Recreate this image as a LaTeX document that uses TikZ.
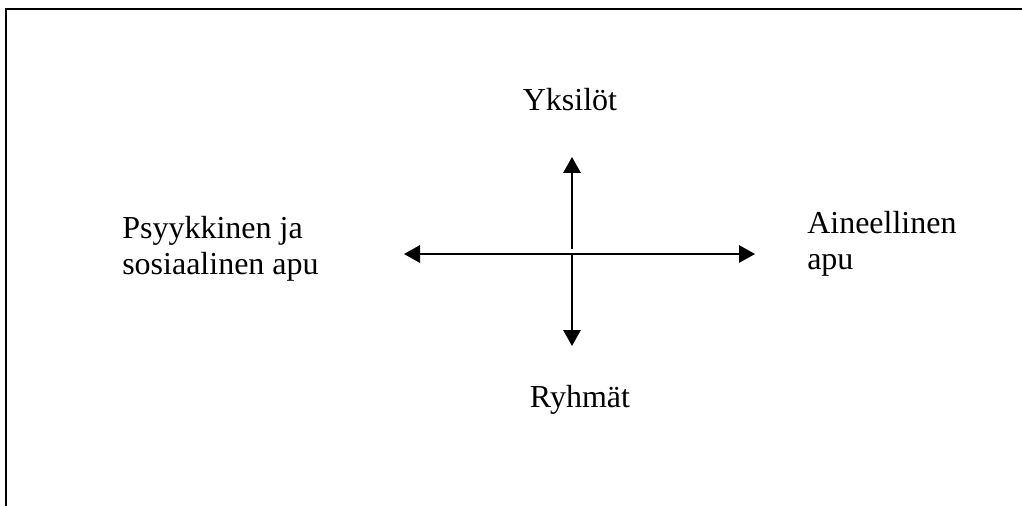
\documentclass[tikz,border=0pt]{standalone}
\usepackage{fontspec}
\setmainfont{Liberation Serif}
\usetikzlibrary{arrows.meta}
\begin{document}
\begin{tikzpicture}[x=0.75pt,y=-0.75pt,
  frame/.style={line width=1.5pt,black},
  axis/.style={line width=1.5pt,black,-{Triangle[length=12pt,width=13pt]}},
  label/.style={font=\fontsize{24}{27}\selectfont,inner sep=0pt,align=left}]
\useasboundingbox (0,0) rectangle (1022,506);
% open frame: top and left edges only
\draw[frame] (6,506) -- (6,9) -- (1022,9);
% axes
\coordinate (up) at (572,249);
\coordinate (dn) at (572,254);
\coordinate (top) at (572,157);
\coordinate (bot) at (572,346);
\coordinate (lt) at (404,254);
\coordinate (rt) at (755,254);
\coordinate (mid) at (572,254);
\draw[axis] (up) -- (top);
\draw[axis] (dn) -- (bot);
\draw[axis] (mid) -- (lt);
\draw[axis] (mid) -- (rt);
% labels (base anchor of a two-line node sits on its last line)
\node[label,anchor=base] (yks) at (570,111) {Yksilöt};
\node[label,anchor=base] (ryh) at (580,407) {Ryhmät};
\node[label,anchor=base west] (psy) at (122,275) {Psyykkinen ja\\sosiaalinen apu};
\node[label,anchor=base west] (ain) at (807,270) {Aineellinen\\apu};
\end{tikzpicture}
\end{document}
